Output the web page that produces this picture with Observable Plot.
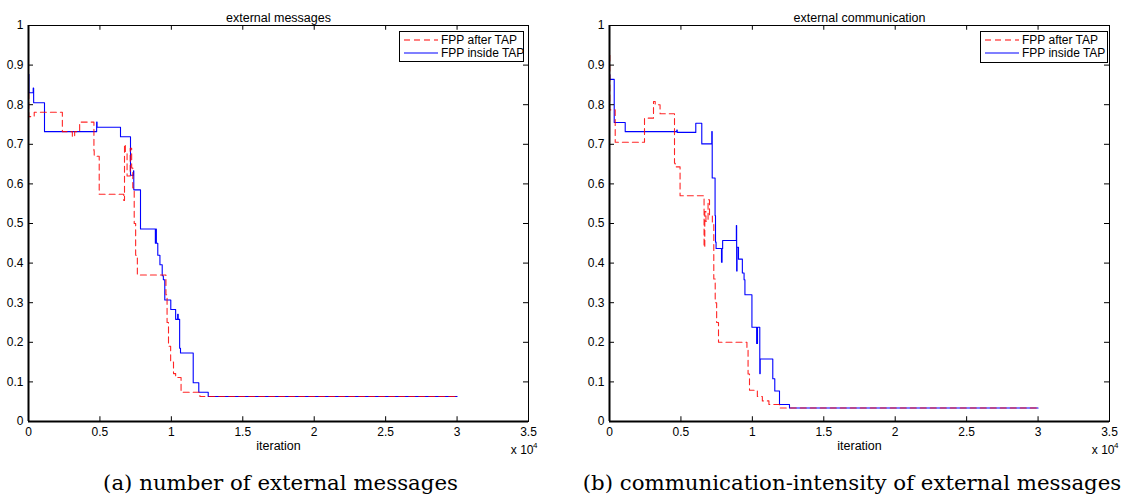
<!DOCTYPE html>
<html>
<head>
<meta charset="utf-8">
<script src="https://cdn.jsdelivr.net/npm/d3@7"></script>
<script src="https://cdn.jsdelivr.net/npm/@observablehq/plot@0.6"></script>
<style>
  body { margin: 0; background: white; }
  #page { position: relative; width: 1122px; height: 496px; overflow: hidden; background: white; }
  .panel { position: absolute; top: 0; }
  .caption { position: absolute; top: 470px; height: 26px; line-height: 26px; text-align: center;
             font-family: "DejaVu Serif", "Liberation Serif", serif; font-size: 21.3px; color: #000; white-space: nowrap; }
  .legend { position: absolute; border: 1px solid #000; background: #fff; box-sizing: border-box;
            font-family: "Liberation Sans", Arial, sans-serif; font-size: 12px; color: #000; padding: 1px 3px 0 4px; }
  .legend .row { display: flex; align-items: center; height: 13.5px; white-space: nowrap; }
  .legend svg { margin-right: 3px; flex: none; }
</style>
</head>
<body>
<div id="page"></div>
<script>
// ---------- data (iteration in units of 10^4) ----------
const xTicks = [0, 0.5, 1, 1.5, 2, 2.5, 3, 3.5];
const yTicks = [0, 0.1, 0.2, 0.3, 0.4, 0.5, 0.6, 0.7, 0.8, 0.9, 1];
const seriesNames = ["FPP after TAP", "FPP inside TAP"];
const titles = ["external messages", "external communication"];
const captions = ["(a) number of external messages", "(b) communication-intensity of external messages"];

// Panel (a): external messages
const aAfterX = [0, 0.002, 0.04, 0.237, 0.307, 0.323, 0.358, 0.458, 0.46, 0.495, 0.667, 0.672, 0.678, 0.69, 0.712, 0.722, 0.73, 0.74, 0.75, 0.762, 0.962, 0.97, 0.98, 0.995, 1.015, 1.03, 1.068, 1.2, 3.0];
const aAfterY = [0.83, 0.77, 0.781, 0.732, 0.719, 0.732, 0.756, 0.684, 0.67, 0.574, 0.558, 0.70, 0.68, 0.62, 0.69, 0.64, 0.59, 0.5, 0.42, 0.37, 0.32, 0.25, 0.19, 0.15, 0.121, 0.111, 0.074, 0.063, 0.063];
const aInsideX = [0, 0.003, 0.033, 0.036, 0.112, 0.477, 0.480, 0.644, 0.714, 0.735, 0.737, 0.784, 0.888, 0.892, 0.895, 0.905, 0.92, 0.936, 0.944, 0.954, 0.996, 1.03, 1.044, 1.048, 1.058, 1.064, 1.153, 1.192, 1.258, 3.0];
const aInsideY = [0.877, 0.83, 0.842, 0.805, 0.732, 0.756, 0.743, 0.719, 0.622, 0.633, 0.585, 0.486, 0.45, 0.486, 0.45, 0.42, 0.396, 0.368, 0.358, 0.307, 0.283, 0.258, 0.271, 0.258, 0.185, 0.173, 0.098, 0.074, 0.063, 0.063];

// Panel (b): external communication
const bAfterX = [0, 0.002, 0.04, 0.245, 0.308, 0.32, 0.354, 0.455, 0.46, 0.494, 0.662, 0.667, 0.675, 0.69, 0.70, 0.72, 0.73, 0.74, 0.75, 0.763, 0.962, 0.97, 0.98, 1.035, 1.07, 1.116, 1.19, 3.0];
const bAfterY = [0.925, 0.787, 0.705, 0.766, 0.808, 0.80, 0.777, 0.652, 0.643, 0.57, 0.44, 0.53, 0.505, 0.56, 0.52, 0.50, 0.36, 0.30, 0.25, 0.20, 0.18, 0.12, 0.079, 0.063, 0.052, 0.043, 0.034, 0.034];
const bInsideX = [0, 0.002, 0.033, 0.11, 0.471, 0.474, 0.604, 0.646, 0.716, 0.719, 0.739, 0.742, 0.746, 0.784, 0.788, 0.792, 0.888, 0.890, 0.893, 0.903, 0.93, 0.942, 0.948, 0.997, 1.030, 1.036, 1.052, 1.055, 1.143, 1.157, 1.19, 1.26, 3.0];
const bInsideY = [0.876, 0.864, 0.755, 0.732, 0.736, 0.730, 0.753, 0.701, 0.732, 0.615, 0.52, 0.453, 0.437, 0.402, 0.437, 0.457, 0.495, 0.38, 0.44, 0.41, 0.375, 0.358, 0.32, 0.238, 0.197, 0.238, 0.121, 0.158, 0.108, 0.077, 0.043, 0.034, 0.034];

const colors = ["#ff0000", "#0000ff"];
const dashes = ["6,4", null];
const FONT = "Liberation Sans, Arial, sans-serif";

function toRows(xs, ys) { return xs.map((x, i) => ({x, y: ys[i]})); }
const fmt = d => String(+d.toFixed(1));

function panel({after, inside, title, width, marginLeft, marginRight}) {
  return Plot.plot({
    width, height: 470, marginLeft, marginRight, marginTop: 25, marginBottom: 49,
    x: {domain: [0, 3.5]},
    y: {domain: [0, 1]},
    style: {fontFamily: FONT, fontSize: "12px", background: "white", color: "black", overflow: "visible"},
    marks: [
      Plot.line(inside, {x: "x", y: "y", curve: "step-after", stroke: colors[1], strokeWidth: 1.1}),
      Plot.line(after, {x: "x", y: "y", curve: "step-after", stroke: colors[0], strokeWidth: 1.1, strokeDasharray: dashes[0], strokeOpacity: 0.85}),
      Plot.frame({stroke: "black", strokeWidth: 1}),
      Plot.ruleX(xTicks, {y1: 0, y2: 0.012, stroke: "black"}),
      Plot.ruleX(xTicks, {y1: 0.988, y2: 1, stroke: "black"}),
      Plot.ruleY(yTicks, {x1: 0, x2: 0.035, stroke: "black"}),
      Plot.ruleY(yTicks, {x1: 3.465, x2: 3.5, stroke: "black"}),
      Plot.ruleY([0], {stroke: "black", strokeWidth: 2}),
      Plot.ruleX([0], {stroke: "black", strokeWidth: 2}),
      Plot.axisX(xTicks, {tickSize: 0, tickPadding: 6, tickFormat: fmt, label: null, fontSize: 12, fontFamily: FONT}),
      Plot.axisY(yTicks, {tickSize: 0, tickPadding: 5, tickFormat: fmt, label: null, fontSize: 12, fontFamily: FONT}),
      Plot.text([title], {frameAnchor: "top", dy: -12, fontSize: 12.5, fontFamily: FONT}),
      Plot.text(["iteration"], {frameAnchor: "bottom", dy: 28, fontSize: 12.5, fontFamily: FONT}),
      Plot.text(["x 10"], {frameAnchor: "bottom-right", dx: 5, dy: 32, textAnchor: "end", fontSize: 12, fontFamily: FONT}),
      Plot.text(["4"], {frameAnchor: "bottom-right", dx: 9, dy: 26, textAnchor: "end", fontSize: 8, fontFamily: FONT})
    ]
  });
}

const page = document.getElementById("page");
const panels = [
  {after: toRows(aAfterX, aAfterY), inside: toRows(aInsideX, aInsideY), title: titles[0], left: 0, width: 561, marginLeft: 28, marginRight: 33,
   legend: {left: 399, top: 31, width: 125, height: 31}, caption: {left: 0, width: 561}},
  {after: toRows(bAfterX, bAfterY), inside: toRows(bInsideX, bInsideY), title: titles[1], left: 582, width: 540, marginLeft: 27, marginRight: 13,
   legend: {left: 980, top: 31, width: 128, height: 32}, caption: {left: 582, width: 540}}
];

panels.forEach((p, i) => {
  const wrap = document.createElement("div");
  wrap.className = "panel";
  wrap.style.left = p.left + "px";
  wrap.appendChild(panel(p));
  page.appendChild(wrap);

  const lg = document.createElement("div");
  lg.className = "legend";
  Object.assign(lg.style, {left: p.legend.left + "px", top: p.legend.top + "px", width: p.legend.width + "px", height: p.legend.height + "px"});
  seriesNames.forEach((name, k) => {
    const row = document.createElement("div");
    row.className = "row";
    const ns = "http://www.w3.org/2000/svg";
    const s = document.createElementNS(ns, "svg");
    s.setAttribute("width", 34); s.setAttribute("height", 6);
    const l = document.createElementNS(ns, "line");
    l.setAttribute("x1", 0); l.setAttribute("x2", 34); l.setAttribute("y1", 3); l.setAttribute("y2", 3);
    l.setAttribute("stroke", colors[k]); l.setAttribute("stroke-width", 1.1);
    if (dashes[k]) l.setAttribute("stroke-dasharray", dashes[k]);
    s.appendChild(l);
    row.appendChild(s);
    const t = document.createElement("span");
    t.textContent = name;
    row.appendChild(t);
    lg.appendChild(row);
  });
  page.appendChild(lg);

  const cap = document.createElement("div");
  cap.className = "caption";
  cap.style.left = p.caption.left + "px";
  cap.style.width = p.caption.width + "px";
  cap.textContent = captions[i];
  page.appendChild(cap);
});
</script>
</body>
</html>
